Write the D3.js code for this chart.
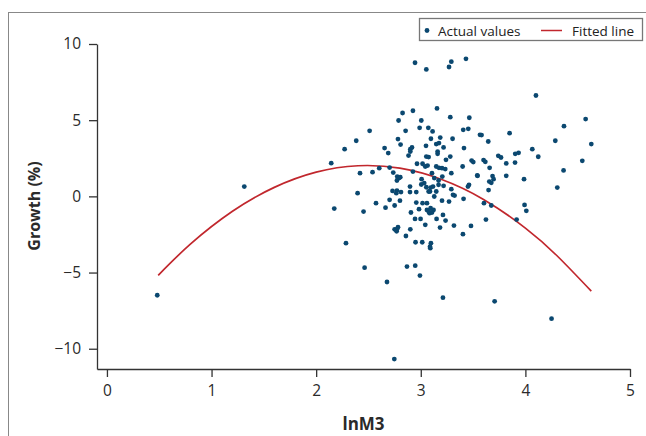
<!DOCTYPE html>
<html lang="en">
<head>
  <meta charset="UTF-8">
  <title>Growth vs lnM3</title>
  <script src="https://d3js.org/d3.v7.min.js"></script>
  <style>
    body { margin: 0; background: #fff; }
    svg { display: block; font-family: "Open Sans", sans-serif; }
  </style>
</head>
<body>
<svg id="chart"></svg>
<script>
  // Actual values (lnM3, growth %)
  const lnM3 = [
    2.945, 3.053, 3.270, 3.292, 3.432, 3.155, 2.925, 2.826, 2.788, 3.005,
    3.282, 3.464, 2.511, 2.855, 2.989, 3.072, 3.113, 3.406, 3.454, 3.566,
    2.383, 2.782, 3.097, 3.186, 3.304, 2.807, 3.050, 3.148, 3.174, 3.218,
    3.413, 2.272, 2.654, 2.900, 2.916, 2.689, 2.883, 2.900, 3.053, 3.075,
    3.161, 3.161, 3.282, 3.241, 2.144, 2.419, 2.539, 2.603, 2.702, 2.737,
    2.775, 2.792, 2.772, 2.804, 2.925, 2.964, 3.017, 3.043, 3.065, 3.107,
    3.148, 3.174, 3.203, 3.234, 3.129, 3.170, 3.206, 3.292, 3.400, 3.486,
    3.502, 3.540, 3.008, 3.033, 3.053, 2.897, 2.897, 2.957, 2.730, 2.772,
    2.766, 2.811, 2.396, 3.094, 3.088, 3.117, 3.148, 3.170, 3.218, 3.292,
    3.461, 3.451, 3.308, 3.409, 3.129, 3.203, 3.270, 3.323, 2.702, 2.801,
    2.572, 2.750, 2.663, 2.957, 3.059, 3.017, 2.173, 2.453, 2.983, 3.059,
    3.094, 3.122, 3.084, 3.075, 3.107, 2.906, 3.212, 3.151, 3.237, 2.945,
    2.998, 3.043, 3.317, 3.480, 3.184, 2.900, 2.750, 2.772, 2.782, 2.769,
    2.858, 3.403, 2.285, 2.950, 3.014, 3.097, 3.088, 3.091, 2.463, 2.868,
    2.947, 2.992, 2.677, 3.212, 2.747, 4.101, 4.576, 4.369, 4.630, 4.286,
    4.544, 4.365, 4.305, 3.581, 3.645, 3.849, 4.066, 4.123, 3.600, 3.617,
    3.741, 3.767, 3.903, 3.935, 3.817, 3.901, 3.658, 3.543, 3.686, 3.696,
    3.655, 3.674, 3.817, 3.987, 3.648, 3.604, 3.674, 3.992, 4.009, 3.623,
    3.916, 3.706, 4.250, 1.313, 0.481, 3.005, 3.075
  ];
  const growth = [
    8.77, 8.33, 8.49, 8.84, 9.03, 5.77, 5.62, 5.47, 4.98, 4.98,
    5.20, 5.16, 4.30, 4.30, 4.50, 4.50, 4.26, 4.37, 4.43, 4.04,
    3.65, 3.76, 3.78, 3.86, 3.78, 3.40, 3.32, 3.43, 3.50, 3.21,
    3.17, 3.10, 3.17, 3.10, 3.21, 2.84, 2.68, 2.94, 2.61, 2.58,
    2.94, 2.79, 2.61, 2.40, 2.18, 1.52, 1.59, 1.85, 1.89, 1.56,
    1.30, 1.20, 1.04, 1.26, 1.63, 2.14, 2.14, 1.96, 2.02, 1.52,
    1.96, 1.87, 1.85, 1.79, 1.20, 1.04, 1.30, 1.52, 1.96, 2.35,
    2.25, 1.37, 1.13, 0.87, 0.60, 0.64, 0.28, 0.28, 0.36, 0.38,
    0.21, 0.28, 0.21, 0.58, 0.32, 0.64, 0.32, 0.76, 0.69, 0.47,
    0.76, 0.64, 0.10, -0.16, -0.01, -0.28, -0.34, 0.05, -0.23, -0.28,
    -0.45, -0.60, -0.74, -0.41, -0.45, -0.45, -0.80, -1.00, -0.84, -0.89,
    -0.78, -0.89, -1.10, -1.00, -1.06, -1.06, -1.22, -1.48, -1.59, -1.48,
    -1.48, -1.87, -1.92, -1.94, -2.05, -2.16, -2.16, -2.16, -2.02, -2.29,
    -2.60, -2.48, -3.07, -3.01, -3.01, -3.07, -3.30, -3.40, -4.68, -4.61,
    -4.55, -5.20, -5.62, -6.65, -10.68, 6.62, 5.07, 4.61, 3.43, 3.65,
    2.33, 1.70, 0.58, 4.02, 3.60, 4.15, 3.10, 2.60, 2.38, 2.27,
    2.66, 2.55, 2.79, 2.86, 2.16, 2.22, 1.87, 1.35, 1.33, 1.13,
    0.97, 0.89, 1.35, 1.13, 0.41, -0.45, -0.60, -0.56, -0.95, -1.52,
    -1.52, -6.89, -8.03, 0.64, -6.49, 0.78, 0.32
  ];

  // Fitted line
  const fitX = [0.49, 0.8, 1.2, 1.6, 2.0, 2.4, 2.8, 3.2, 3.6, 4.0, 4.3, 4.63];
  const fitY = [-5.18, -3.12, -0.98, 0.59, 1.59, 2.01, 1.85, 1.11, -0.20, -2.08, -3.88, -6.22];

  const xTicks = [0, 1, 2, 3, 4, 5];
  const yTicks = [-10, -5, 0, 5, 10];

  const W = 646, H = 436;
  const dotColor = "#0b4870";
  const lineColor = "#c1272d";
  const axisColor = "#333";

  const svg = d3.select("#chart").attr("width", W).attr("height", H);

  // outer frame
  svg.append("rect")
    .attr("x", 8.5).attr("y", 12.5)
    .attr("width", 700).attr("height", 500)
    .attr("fill", "none").attr("stroke", "#888").attr("stroke-width", 1);

  const x = d3.scaleLinear().domain([-0.095, 5]).range([97, 630]);
  const y = d3.scaleLinear().domain([-11.33, 10]).range([369, 44]);

  // axes
  const xAxis = svg.append("g")
    .attr("transform", "translate(0,369)")
    .call(d3.axisBottom(x).tickValues(xTicks).tickFormat(d3.format("d"))
      .tickSize(8).tickSizeOuter(0).tickPadding(8));
  const yAxis = svg.append("g")
    .attr("transform", "translate(97,0)")
    .call(d3.axisLeft(y).tickValues(yTicks).tickFormat(d3.format("d"))
      .tickSize(8).tickSizeOuter(0).tickPadding(8));

  [xAxis, yAxis].forEach(g => {
    g.selectAll("path, line").attr("stroke", axisColor).attr("stroke-width", 1.3);
    g.selectAll("text").attr("fill", "#2a2a2a").style("font-size", "15.5px")
      .style("font-family", "'Open Sans', sans-serif");
  });

  // fitted curve
  const fit = fitX.map((v, i) => [v, fitY[i]]);
  svg.append("path")
    .datum(fit)
    .attr("fill", "none")
    .attr("stroke", lineColor)
    .attr("stroke-width", 1.7)
    .attr("d", d3.line().x(d => x(d[0])).y(d => y(d[1])).curve(d3.curveNatural));

  // points
  const pts = lnM3.map((v, i) => [v, growth[i]]);
  svg.append("g").selectAll("circle")
    .data(pts)
    .join("circle")
    .attr("cx", d => x(d[0]))
    .attr("cy", d => y(d[1]))
    .attr("r", 2.4)
    .attr("fill", dotColor);

  // axis titles
  svg.append("text")
    .attr("x", (97 + 630) / 2).attr("y", 430)
    .attr("text-anchor", "middle")
    .style("font-size", "17px").style("font-weight", "bold").attr("fill", "#2a2a2a")
    .text("lnM3");
  svg.append("text")
    .attr("transform", "translate(40,206) rotate(-90)")
    .attr("text-anchor", "middle")
    .style("font-size", "16px").style("font-weight", "bold").attr("fill", "#2a2a2a")
    .text("Growth (%)");

  // legend
  const leg = svg.append("g");
  leg.append("rect")
    .attr("x", 419.5).attr("y", 18.5).attr("width", 223).attr("height", 22)
    .attr("fill", "#fff").attr("stroke", "#777").attr("stroke-width", 1.3);
  leg.append("circle").attr("cx", 427).attr("cy", 30.5).attr("r", 2.4).attr("fill", dotColor);
  leg.append("text").attr("x", 438).attr("y", 35.5).style("font-size", "13.5px").attr("fill", "#222")
    .text("Actual values");
  leg.append("line").attr("x1", 541).attr("x2", 562).attr("y1", 30.5).attr("y2", 30.5)
    .attr("stroke", lineColor).attr("stroke-width", 1.5);
  leg.append("text").attr("x", 572).attr("y", 35.5).style("font-size", "13.5px").attr("fill", "#222")
    .text("Fitted line");
</script>
</body>
</html>
